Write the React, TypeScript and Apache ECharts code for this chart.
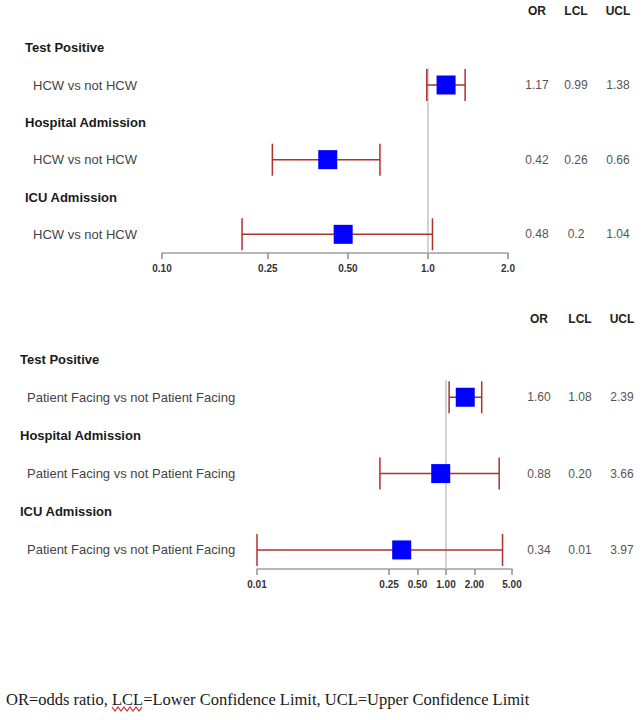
import React, { useEffect, useRef } from "react";
import * as echarts from "echarts";

// ---------------- data ----------------
const groups = ["Test Positive", "Hospital Admission", "ICU Admission"];
const columnHeaders = ["OR", "LCL", "UCL"];

const topComparison = "HCW vs not HCW";
const topOR = [1.17, 0.42, 0.48];
const topLCL = [0.99, 0.26, 0.2];
const topUCL = [1.38, 0.66, 1.04];
const topORLabels = ["1.17", "0.42", "0.48"];
const topLCLLabels = ["0.99", "0.26", "0.2"];
const topUCLLabels = ["1.38", "0.66", "1.04"];
const topTickValues = [0.1, 0.25, 0.5, 1, 2];
const topTickLabels = ["0.10", "0.25", "0.50", "1.0", "2.0"];

const bottomComparison = "Patient Facing vs not Patient Facing";
const bottomOR = [1.6, 0.88, 0.34];
const bottomLCL = [1.08, 0.2, 0.01];
const bottomUCL = [2.39, 3.66, 3.97];
const bottomORLabels = ["1.60", "0.88", "0.34"];
const bottomLCLLabels = ["1.08", "0.20", "0.01"];
const bottomUCLLabels = ["2.39", "3.66", "3.97"];
const bottomTickValues = [0.01, 0.25, 0.5, 1, 2, 5];
const bottomTickLabels = ["0.01", "0.25", "0.50", "1.00", "2.00", "5.00"];

const referenceValue = 1;
const footnote =
  "OR=odds ratio, LCL=Lower Confidence Limit, UCL=Upper Confidence Limit";
const footnotePrefix = "OR=odds ratio, ";
const footnoteMarked = "LCL";

// ---------------- layout ----------------
const W = 644;
const H = 720;
const SANS = '"Liberation Sans", Arial, Helvetica, sans-serif';
const SERIF = '"Liberation Serif", "Times New Roman", serif';

const panels = [
  {
    comparison: topComparison,
    or: topOR,
    lcl: topLCL,
    ucl: topUCL,
    colLabels: [topORLabels, topLCLLabels, topUCLLabels],
    ticks: topTickValues,
    tickLabels: topTickLabels,
    min: 0.1,
    max: 2,
    gridTop: 29,
    gridHeight: 224,
    left: 162,
    right: 136,
    labelX: 25,
    indent: 8,
    headerY: 11,
    colX: [537, 576, 618],
  },
  {
    comparison: bottomComparison,
    or: bottomOR,
    lcl: bottomLCL,
    ucl: bottomUCL,
    colLabels: [bottomORLabels, bottomLCLLabels, bottomUCLLabels],
    ticks: bottomTickValues,
    tickLabels: bottomTickLabels,
    min: 0.01,
    max: 5,
    gridTop: 340,
    gridHeight: 229,
    left: 257,
    right: 132,
    labelX: 20,
    indent: 7,
    headerY: 319,
    colX: [539, 580, 622],
  },
];

const CAP = 16;
const CI_COLOR = "#b0302e";

function measure(text: string, font: string): number {
  const c = document.createElement("canvas");
  const ctx = c.getContext("2d");
  if (!ctx) return text.length * 7;
  ctx.font = font;
  return ctx.measureText(text).width;
}

function buildOption() {
  const grids: any[] = [];
  const xAxes: any[] = [];
  const yAxes: any[] = [];
  const series: any[] = [];
  const graphics: any[] = [];

  panels.forEach((p, pi) => {
    const cats = groups.flatMap((_, g) => ["h" + g, "i" + g]);
    const gridRightX = W - p.right;
    grids.push({
      left: p.left,
      top: p.gridTop,
      width: W - p.left - p.right,
      height: p.gridHeight,
      containLabel: false,
    });
    xAxes.push({
      type: "log",
      logBase: 10,
      gridIndex: pi,
      min: p.min,
      max: p.max,
      splitLine: { show: false },
      minorTick: { show: false },
      axisLine: { show: true, lineStyle: { color: "#a0a0a0", width: 1.5 } },
      axisTick: {
        show: true,
        customValues: p.ticks,
        length: 6,
        lineStyle: { color: "#909090", width: 1.5 },
      },
      axisLabel: {
        customValues: p.ticks,
        margin: 10,
        fontSize: 10,
        fontWeight: "bold",
        color: "#333",
        fontFamily: SANS,
        formatter: (v: number) => {
          let best = 0;
          let bd = Infinity;
          p.ticks.forEach((t, i) => {
            const d = Math.abs(Math.log(t) - Math.log(v));
            if (d < bd) {
              bd = d;
              best = i;
            }
          });
          return p.tickLabels[best];
        },
      },
    });
    const leftIdx = yAxes.length;
    yAxes.push({
      type: "category",
      gridIndex: pi,
      data: cats,
      inverse: true,
      position: "left",
      axisLine: { show: false },
      axisTick: { show: false },
      splitLine: { show: false },
      axisLabel: {
        interval: 0,
        align: "left",
        margin: p.left - p.labelX,
        formatter: (_v: string, i: number) =>
          i % 2 === 0
            ? `{h|${groups[i / 2]}}`
            : `{i|${p.comparison}}`,
        rich: {
          h: { fontWeight: "bold", fontSize: 13, color: "#1a1a1a", fontFamily: SANS },
          i: {
            fontSize: 13,
            color: "#444",
            fontFamily: SANS,
            padding: [0, 0, 0, p.indent],
          },
        },
      },
    });
    p.colLabels.forEach((labels, k) => {
      yAxes.push({
        type: "category",
        gridIndex: pi,
        data: cats,
        inverse: true,
        position: "right",
        offset: 0,
        axisLine: { show: false },
        axisTick: { show: false },
        splitLine: { show: false },
        axisLabel: {
          interval: 0,
          align: "center",
          margin: p.colX[k] - gridRightX,
          fontSize: 12,
          color: "#555",
          fontFamily: SANS,
          formatter: (_v: string, i: number) =>
            i % 2 === 1 ? labels[(i - 1) / 2] : "",
        },
      });
      graphics.push({
        type: "text",
        x: p.colX[k],
        y: p.headerY,
        style: {
          text: columnHeaders[k],
          fontSize: 12,
          fontWeight: "bold",
          fontFamily: SANS,
          fill: "#222",
          align: "center",
          verticalAlign: "middle",
        },
      });
    });

    // reference line at OR = 1
    series.push({
      type: "custom",
      xAxisIndex: pi,
      yAxisIndex: leftIdx,
      z: 1,
      silent: true,
      data: [[referenceValue, 1]],
      encode: { x: 0, y: 1 },
      renderItem: (params: any, api: any) => {
        const pt = api.coord([api.value(0), api.value(1)]);
        const cs = params.coordSys;
        return {
          type: "line",
          shape: { x1: pt[0], y1: pt[1] - CAP - 1, x2: pt[0], y2: cs.y + cs.height },
          style: { stroke: "#c4c4c4", lineWidth: 1.5 },
        };
      },
    });

    // confidence intervals
    series.push({
      type: "custom",
      xAxisIndex: pi,
      yAxisIndex: leftIdx,
      z: 2,
      silent: true,
      data: p.or.map((_, g) => [p.lcl[g], p.ucl[g], 2 * g + 1]),
      encode: { x: [0, 1], y: 2 },
      renderItem: (_params: any, api: any) => {
        const lo = api.coord([api.value(0), api.value(2)]);
        const hi = api.coord([api.value(1), api.value(2)]);
        const st = { stroke: CI_COLOR, lineWidth: 1.5 };
        return {
          type: "group",
          children: [
            { type: "line", shape: { x1: lo[0], y1: lo[1], x2: hi[0], y2: hi[1] }, style: st },
            { type: "line", shape: { x1: lo[0], y1: lo[1] - CAP, x2: lo[0], y2: lo[1] + CAP }, style: st },
            { type: "line", shape: { x1: hi[0], y1: hi[1] - CAP, x2: hi[0], y2: hi[1] + CAP }, style: st },
          ],
        };
      },
    });

    // point estimates
    series.push({
      type: "scatter",
      xAxisIndex: pi,
      yAxisIndex: leftIdx,
      z: 3,
      silent: true,
      symbol: "rect",
      symbolSize: [19, 19],
      itemStyle: { color: "#0000ff", opacity: 1 },
      data: p.or.map((v, g) => [v, 2 * g + 1]),
    });
  });

  // footnote
  const footSize = 16.5;
  const footFont = `${footSize}px ${SERIF}`;
  const footX = 6;
  const footY = 699;
  graphics.push({
    type: "text",
    x: footX,
    y: footY,
    style: {
      text: footnote,
      fontSize: footSize,
      fontFamily: SERIF,
      fill: "#1a1a1a",
      align: "left",
      verticalAlign: "middle",
    },
  });
  const x0 = footX + measure(footnotePrefix, footFont);
  const x1 = x0 + measure(footnoteMarked, footFont);
  const pts: number[][] = [];
  let up = true;
  for (let x = x0; x <= x1 + 0.01; x += 3) {
    pts.push([x, up ? footY + 8 : footY + 12]);
    up = !up;
  }
  graphics.push({
    type: "polyline",
    shape: { points: pts },
    style: { stroke: "#d42a2a", lineWidth: 1.2, fill: null },
  });

  return {
    animation: false,
    backgroundColor: "#ffffff",
    grid: grids,
    xAxis: xAxes,
    yAxis: yAxes,
    series,
    graphic: graphics,
  };
}

export default function App() {
  const ref = useRef<HTMLDivElement>(null);
  useEffect(() => {
    if (!ref.current) return;
    const chart = echarts.init(ref.current, null, { renderer: "svg", width: W, height: H });
    chart.setOption(buildOption() as any);
    return () => chart.dispose();
  }, []);
  return (
    <div
      ref={ref}
      style={{ position: "absolute", left: 0, top: 0, width: W, height: H, background: "#fff" }}
    />
  );
}
